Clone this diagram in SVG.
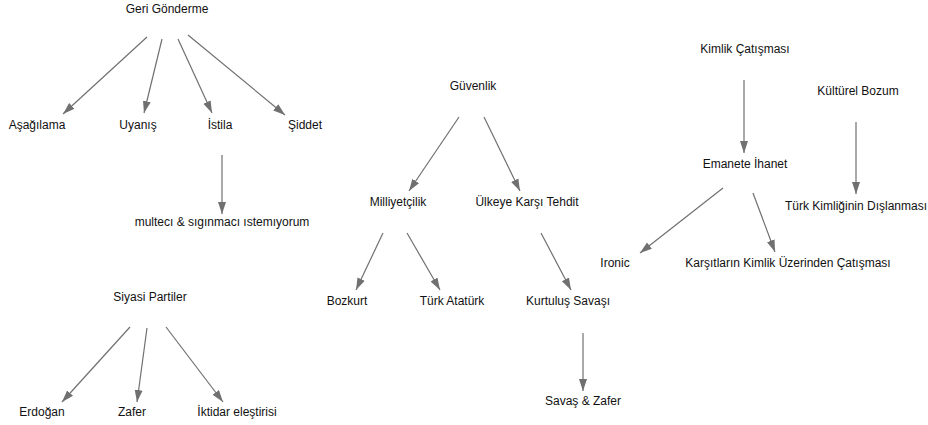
<svg xmlns="http://www.w3.org/2000/svg" width="928" height="425" viewBox="0 0 928 425">
<style>
text{font-family:"Liberation Sans",Arial,Helvetica,sans-serif;font-size:12px;fill:#111;text-anchor:middle;}
.e line{stroke:#707070;stroke-width:1.2;marker-end:url(#ah);}
</style>
<defs>
<marker id="ah" markerUnits="userSpaceOnUse" markerWidth="13" markerHeight="10" refX="12" refY="5" orient="auto">
<path d="M0,1 L12,5 L0,9 Z" fill="#707070"/>
</marker>
</defs>
<rect width="928" height="425" fill="#fff"/>
<g id="n_geri"><text x="167" y="13">Geri Gönderme</text></g>
<g id="n_asag"><text x="37" y="129">Aşağılama</text></g>
<g id="n_uyan"><text x="138" y="129">Uyanış</text></g>
<g id="n_isti"><text x="220" y="129">İstila</text></g>
<g id="n_sidd"><text x="305" y="129">Şiddet</text></g>
<g id="n_mult"><text x="222" y="226">multecı &amp; sıgınmacı ıstemıyorum</text></g>
<g id="n_siya"><text x="150" y="301">Siyasi Partiler</text></g>
<g id="n_erdo"><text x="42" y="416">Erdoğan</text></g>
<g id="n_zafe"><text x="132" y="416">Zafer</text></g>
<g id="n_ikti"><text x="237" y="416">İktidar eleştirisi</text></g>
<g id="n_guve"><text x="473" y="90">Güvenlik</text></g>
<g id="n_mill"><text x="398" y="206">Milliyetçilik</text></g>
<g id="n_ulke"><text x="527" y="206">Ülkeye Karşı Tehdit</text></g>
<g id="n_bozk"><text x="347" y="305">Bozkurt</text></g>
<g id="n_turk"><text x="452" y="305">Türk Atatürk</text></g>
<g id="n_kurt"><text x="568" y="305">Kurtuluş Savaşı</text></g>
<g id="n_sava"><text x="583" y="405">Savaş &amp; Zafer</text></g>
<g id="n_kiml"><text x="745" y="53">Kimlik Çatışması</text></g>
<g id="n_kult"><text x="858" y="95">Kültürel Bozum</text></g>
<g id="n_eman"><text x="745" y="168">Emanete İhanet</text></g>
<g id="n_tkim"><text x="856" y="210">Türk Kimliğinin Dışlanması</text></g>
<g id="n_iron"><text x="615" y="267">Ironic</text></g>
<g id="n_kars"><text x="788" y="267">Karşıtların Kimlik Üzerinden Çatışması</text></g>
<g id="edges" class="e">
<line x1="147" y1="37" x2="63" y2="114"/>
<line x1="162" y1="39" x2="144" y2="113"/>
<line x1="178" y1="39" x2="212" y2="113"/>
<line x1="188" y1="35" x2="285" y2="115"/>
<line x1="222" y1="155" x2="222" y2="214"/>
<line x1="130" y1="327" x2="62" y2="402"/>
<line x1="147" y1="328" x2="137" y2="402"/>
<line x1="166" y1="327" x2="223" y2="402"/>
<line x1="459" y1="117" x2="409" y2="191"/>
<line x1="484" y1="117" x2="520" y2="191"/>
<line x1="383" y1="233" x2="356" y2="290"/>
<line x1="407" y1="233" x2="440" y2="290"/>
<line x1="541" y1="233" x2="571" y2="290"/>
<line x1="583" y1="333" x2="583" y2="391"/>
<line x1="744" y1="80" x2="744" y2="153"/>
<line x1="856" y1="122" x2="856" y2="194"/>
<line x1="723" y1="188" x2="640" y2="253"/>
<line x1="753" y1="193" x2="775" y2="252"/>
</g>
</svg>
